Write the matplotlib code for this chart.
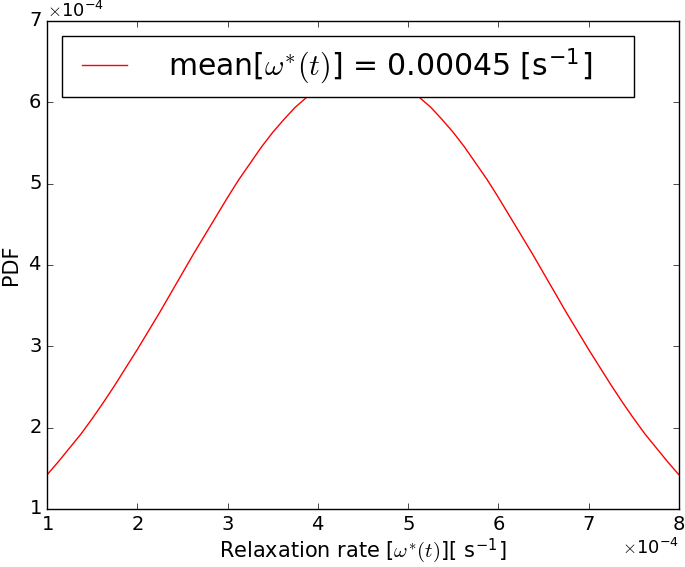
import matplotlib
matplotlib.use("Agg")
import matplotlib.pyplot as plt

# relaxation rate (x 1e-4 s^-1) and PDF (x 1e-4)
rate = [1.0, 1.125, 1.25, 1.375, 1.5, 1.625, 1.75, 1.875, 2.0, 2.125, 2.25, 2.375,
        2.5, 2.625, 2.75, 2.875, 3.0, 3.125, 3.25, 3.375, 3.5, 3.625, 3.75, 3.875,
        4.0, 4.125, 4.25, 4.375, 4.5, 4.625, 4.75, 4.875, 5.0, 5.125, 5.25, 5.375,
        5.5, 5.625, 5.75, 5.875, 6.0, 6.125, 6.25, 6.375, 6.5, 6.625, 6.75, 6.875,
        7.0, 7.125, 7.25, 7.375, 7.5, 7.625, 7.75, 7.875, 8.0]
pdf = [1.42, 1.58, 1.75, 1.92, 2.11, 2.31, 2.52, 2.74, 2.96, 3.19, 3.42, 3.66,
       3.90, 4.14, 4.37, 4.60, 4.83, 5.05, 5.25, 5.45, 5.63, 5.79, 5.94, 6.06,
       6.17, 6.25, 6.31, 6.35, 6.36, 6.35, 6.31, 6.25, 6.17, 6.06, 5.94, 5.79,
       5.63, 5.45, 5.25, 5.05, 4.83, 4.60, 4.37, 4.14, 3.90, 3.66, 3.42, 3.19,
       2.96, 2.74, 2.52, 2.31, 2.11, 1.92, 1.75, 1.58, 1.42]
scale = 1e-4
mean_rate = 0.00045

plt.style.use('classic')

fig = plt.figure(figsize=(6.85, 5.67), dpi=100, facecolor='white')
ax = fig.add_axes([0.0686, 0.1023, 0.9226, 0.8607])

x = [v * scale for v in rate]
y = [v * scale for v in pdf]
ax.plot(x, y, color='r', lw=1.0,
        label=r'mean[$\omega^{*}(t)$] = %.5f [s$^{\mathregular{-1}}$]    ' % mean_rate)

ax.set_xlim(1e-4, 8e-4)
ax.set_ylim(1e-4, 7e-4)
ax.set_xticks([i * scale for i in range(1, 9)])
ax.set_yticks([i * scale for i in range(1, 8)])
ax.ticklabel_format(style='sci', axis='both', scilimits=(0, 0), useMathText=True)
ax.tick_params(labelsize=14)
ax.xaxis.get_offset_text().set_fontsize(13)
ax.yaxis.get_offset_text().set_fontsize(13)

ax.set_xlabel(r'Relaxation rate [$\omega^{*}(t)$][ s$^{\mathregular{-1}}$]',
              fontsize=15, labelpad=2)
ax.set_ylabel('PDF', fontsize=15)

leg = ax.legend(loc='upper left', bbox_to_anchor=(0.024, 0.97), fontsize=21.5,
                fancybox=False, handlelength=2.1, borderpad=0.36,
                handletextpad=1.1, borderaxespad=0.0)
leg.get_frame().set_linewidth(1.0)

fig.savefig('out.png', dpi=100, facecolor='white')
